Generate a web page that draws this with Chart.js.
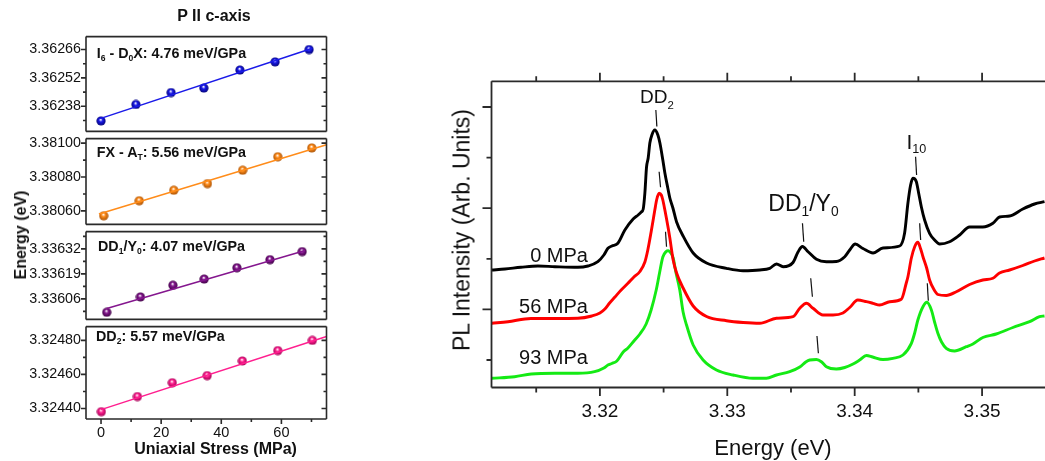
<!DOCTYPE html>
<html>
<head>
<meta charset="utf-8">
<script src="https://cdn.jsdelivr.net/npm/chart.js@4.4.0/dist/chart.umd.min.js"></script>
<style>
body{margin:0;width:1045px;height:461px;position:relative;overflow:hidden;background:#fff;font-family:"Liberation Sans",Arial,sans-serif;color:#111}
canvas{position:absolute}
.t{position:absolute;white-space:nowrap;line-height:1}
.b{font-weight:bold}
sub{font-size:.6em;vertical-align:baseline;position:relative;top:.35em}
.rot{transform:translate(-50%,-50%) rotate(-90deg)}
</style>
</head>
<body>
<canvas id="p1" width="340" height="122" style="left:0;top:23px"></canvas>
<canvas id="p2" width="340" height="113" style="left:0;top:125px"></canvas>
<canvas id="p3" width="340" height="115" style="left:0;top:218px"></canvas>
<canvas id="p4" width="340" height="148" style="left:0;top:313px"></canvas>
<canvas id="pl" width="605" height="461" style="left:440px;top:0"></canvas>

<div class="t b" style="left:0;width:428px;text-align:center;top:8px;font-size:16px">P II c-axis</div>
<div class="t b rot" style="left:21px;top:235px;font-size:16px">Energy (eV)</div>
<div class="t b" style="left:215.5px;top:441px;font-size:16px;transform:translateX(-50%)">Uniaxial Stress (MPa)</div>
<div class="t b" style="left:96.7px;top:45.7px;font-size:14.3px">I<sub>6</sub> - D<sub>0</sub>X: 4.76 meV/GPa</div>
<div class="t b" style="left:96.7px;top:144.9px;font-size:14.3px">FX - A<sub>T</sub>: 5.56 meV/GPa</div>
<div class="t b" style="left:98px;top:239.4px;font-size:14.3px">DD<sub>1</sub>/Y<sub>0</sub>: 4.07 meV/GPa</div>
<div class="t b" style="left:96px;top:328.7px;font-size:14.3px">DD<sub>2</sub>: 5.57 meV/GPa</div>

<div class="t rot" style="left:462px;top:230px;font-size:23px">PL Intensity (Arb. Units)</div>
<div class="t" style="left:773px;top:436.7px;font-size:22px;transform:translateX(-50%)">Energy (eV)</div>
<div class="t" style="left:640px;top:87.2px;font-size:19px">DD<sub style="top:.5em">2</sub></div>
<div class="t" style="left:768.3px;top:192.2px;font-size:23px">DD<sub>1</sub>/Y<sub>0</sub></div>
<div class="t" style="left:906.5px;top:130.5px;font-size:21px">I<sub>10</sub></div>
<div class="t" style="left:588px;top:244.8px;font-size:20px;transform:translateX(-100%)">0 MPa</div>
<div class="t" style="left:588px;top:296.4px;font-size:20px;transform:translateX(-100%)">56 MPa</div>
<div class="t" style="left:588px;top:347.1px;font-size:20px;transform:translateX(-100%)">93 MPa</div>

<script>
// ---- left: peak energy vs uniaxial stress ----
const stressI6 = [0, 11.6, 23.3, 34.2, 46.2, 57.9, 69.2];
const energyI6 = [3.362308, 3.362389, 3.362448, 3.362470, 3.362559, 3.362599, 3.362660];
const fitXI6 = [-0.3, 70.3];
const fitYI6 = [3.362319, 3.362666];

const stressFX = [0.9, 12.7, 24.2, 35.4, 47.1, 58.8, 70.1];
const energyFX = [3.380571, 3.380660, 3.380722, 3.380761, 3.380840, 3.380920, 3.380972];
const fitXFX = [-0.7, 75];
const fitYFX = [3.380581, 3.380991];

const stressDD1 = [1.9, 13.1, 23.9, 34.3, 45.2, 56.2, 66.9];
const energyDD1 = [3.335990, 3.336070, 3.336131, 3.336163, 3.336222, 3.336264, 3.336306];
const fitXDD1 = [1.9, 67.9];
const fitYDD1 = [3.336010, 3.336312];

const stressDD2 = [0.1, 12.1, 23.7, 35.3, 47.0, 58.8, 70.3];
const energyDD2 = [3.324381, 3.324470, 3.324551, 3.324593, 3.324679, 3.324740, 3.324800];
const fitXDD2 = [0, 75];
const fitYDD2 = [3.324393, 3.324823];

const stressTicks = [0, 20, 40, 60];

// ---- right: PL spectra ----
const energy0 = [3.31151,3.31255,3.31380,3.31514,3.31647,3.31827,3.31906,3.31984,3.32031,3.32063,3.32094,3.32141,3.32196,3.32261,3.32300,3.32325,3.32340,3.32353,3.32366,3.32379,3.32392,3.32408,3.32431,3.32455,3.32471,3.32494,3.32510,3.32533,3.32549,3.32573,3.32602,3.32653,3.32732,3.32837,3.32994,3.33124,3.33255,3.33333,3.33386,3.33438,3.33516,3.33555,3.33590,3.33634,3.33700,3.33778,3.33856,3.33922,3.33961,3.34004,3.34065,3.34144,3.34222,3.34353,3.34392,3.34418,3.34439,3.34457,3.34484,3.34502,3.34523,3.34549,3.34588,3.34627,3.34667,3.34745,3.34824,3.34902,3.35006,3.35085,3.35137,3.35216,3.35320,3.35412,3.35490];
const pl0 = [140,141,142.7,144,143.3,142.7,144,148.3,155,161.7,164,166.7,180,191,195,198,201,217,243,252,267,275,280,275,267,250,237,222,212,202,188,174,157,147,141.7,139.3,140,141.7,146,143.3,147.5,158,163.5,158.3,150.7,148.3,148.5,153.3,160,166,161.5,157,162,164,177,207,225,231.7,228.3,217,203.3,190,176.7,170,166,168.3,175,183,183,186.7,193,194,201,206,208.3];

const energy56 = [3.31151,3.31278,3.31459,3.31647,3.31827,3.31937,3.32000,3.32039,3.32076,3.32118,3.32167,3.32220,3.32267,3.32314,3.32353,3.32376,3.32402,3.32418,3.32431,3.32447,3.32465,3.32482,3.32494,3.32510,3.32536,3.32549,3.32575,3.32602,3.32653,3.32732,3.32837,3.32994,3.33124,3.33255,3.33386,3.33516,3.33569,3.33621,3.33673,3.33751,3.33830,3.33908,3.33961,3.34024,3.34092,3.34144,3.34196,3.34275,3.34366,3.34405,3.34418,3.34445,3.34471,3.34496,3.34518,3.34536,3.34565,3.34588,3.34620,3.34653,3.34719,3.34798,3.34902,3.35006,3.35085,3.35137,3.35216,3.35320,3.35412,3.35490];
const pl56 = [86.7,88.3,91.5,91.5,91.7,94,97,101,107,113,120,126.7,133,138.5,148,160,178,190,200,211,216.7,215,210,200,182,172,150,137,122,104,93.5,89.3,87.5,86.7,91.7,93.3,101.7,106.7,101.7,95,95,97,102.5,110,108.3,106.7,105,108.3,110.7,127,133.3,152,163.3,167.7,161,153.3,142,130,121,115.5,114.5,118.3,125.5,130,131.7,137,140,144.5,149,152];

const energy93 = [3.31151,3.31331,3.31461,3.31647,3.31827,3.31958,3.32031,3.32063,3.32094,3.32133,3.32183,3.32220,3.32267,3.32314,3.32363,3.32402,3.32442,3.32468,3.32494,3.32520,3.32537,3.32557,3.32575,3.32596,3.32627,3.32653,3.32680,3.32732,3.32810,3.32915,3.33045,3.33202,3.33307,3.33386,3.33490,3.33569,3.33616,3.33647,3.33700,3.33741,3.33778,3.33856,3.33922,3.33987,3.34039,3.34092,3.34141,3.34222,3.34300,3.34379,3.34445,3.34471,3.34496,3.34536,3.34567,3.34602,3.34627,3.34653,3.34682,3.34719,3.34784,3.34876,3.34928,3.35006,3.35111,3.35242,3.35373,3.35451,3.35490];
const pl93 = [31.7,33.3,36,36.7,36.7,38.3,42,45,46.5,49,58,62,69,76,86,100,120,137,153,158.5,159.3,157,152,138,120,98,85,65,50,40,35,31.7,31.7,35,38.3,43,48,50,50.5,48,43.3,41,42.5,46,50,54.5,53,50.5,51.7,55,66.7,77,90,103.3,107.7,100,88,76.7,68,61.7,59,63.3,66,72.5,76,82.5,88.3,93.3,94];

// peak markers: [E top, I top, E bottom, I bottom]
const peakMarks = [
  [3.32439, 300, 3.32447, 283.5], [3.32465, 238.3, 3.32476, 222.7], [3.32515, 178.3, 3.32523, 163.3],
  [3.33590, 186.7, 3.33600, 168.3], [3.33655, 131.7, 3.33668, 113.3], [3.33704, 74, 3.33715, 56.7],
  [3.34478, 253.3, 3.34486, 235], [3.34510, 186.7, 3.34518, 170], [3.34570, 126.7, 3.34578, 109.3]
];
const energyTicks = [3.32, 3.33, 3.34, 3.35];

const xy = (xs, ys) => xs.map((x, i) => ({x: x, y: ys[i]}));

// frame + tick marks drawn through the chart's scales
const frame = {
  id: 'frame',
  afterDatasetsDraw(chart, args, o) {
    const {ctx, chartArea: a, scales} = chart;
    ctx.save();
    ctx.strokeStyle = '#2a2a2a';
    ctx.lineWidth = o.lw;
    ctx.beginPath();
    if (o.sides.includes('l')) { ctx.moveTo(a.left, a.top); ctx.lineTo(a.left, a.bottom); }
    if (o.sides.includes('r')) { ctx.moveTo(a.right, a.top); ctx.lineTo(a.right, a.bottom); }
    if (o.sides.includes('t')) { ctx.moveTo(a.left, a.top); ctx.lineTo(a.right, a.top); }
    if (o.sides.includes('b')) { ctx.moveTo(a.left, a.bottom); ctx.lineTo(a.right, a.bottom); }
    (o.yTicks || []).forEach(([v, len]) => {
      const p = scales.y.getPixelForValue(v);
      ctx.moveTo(a.left, p); ctx.lineTo(a.left - len, p);
      if (o.yRight) { ctx.moveTo(a.right, p); ctx.lineTo(a.right - len, p); }
    });
    (o.xTicks || []).forEach(([v, len]) => {
      const p = scales.x.getPixelForValue(v);
      ctx.moveTo(p, a.bottom); ctx.lineTo(p, a.bottom + len);
      if (o.xTop) { ctx.moveTo(p, a.top); ctx.lineTo(p, a.top - len); }
    });
    ctx.stroke();
    ctx.restore();
  }
};

function ball(col, dark) {
  const c = document.createElement('canvas');
  c.width = c.height = 10;
  const g = c.getContext('2d');
  const grd = g.createRadialGradient(4.6, 3.6, 0.2, 5, 5, 5);
  grd.addColorStop(0, '#ffffff');
  grd.addColorStop(0.35, col);
  grd.addColorStop(1, dark);
  g.fillStyle = grd;
  g.beginPath(); g.arc(5, 5, 4.6, 0, Math.PI * 2); g.fill();
  return c;
}

const panels = [
  {id: 'p1', xs: stressI6, ys: energyI6, fx: fitXI6, fy: fitYI6, min: 3.362256, max: 3.362724,
   major: [3.36238, 3.36252, 3.36266], minor: [3.36231, 3.36245, 3.36259], col: '#1a1ae8', dark: '#00006e'},
  {id: 'p2', xs: stressFX, ys: energyFX, fx: fitXFX, fy: fitYFX, min: 3.38052, max: 3.381027,
   major: [3.3806, 3.3808, 3.381], minor: [3.3807, 3.3809], col: '#ff8c1a', dark: '#a04a00'},
  {id: 'p3', xs: stressDD1, ys: energyDD1, fx: fitXDD1, fy: fitYDD1, min: 3.335953, max: 3.33641,
   major: [3.33606, 3.33619, 3.33632], minor: [3.335995, 3.336125, 3.336255, 3.336385], col: '#84168e', dark: '#3a0040'},
  {id: 'p4', xs: stressDD2, ys: energyDD2, fx: fitXDD2, fy: fitYDD2, min: 3.324338, max: 3.324881,
   major: [3.3244, 3.3246, 3.3248], minor: [3.3245, 3.3247], col: '#ff1f8f', dark: '#9a0050'}
];

panels.forEach((p, k) => {
  const last = k === panels.length - 1;
  const xScale = {type: 'linear', min: -5, max: 75, display: last,
    grid: {display: false, drawTicks: false}, border: {display: false},
    afterBuildTicks: s => { s.ticks = stressTicks.map(v => ({value: v})); },
    ticks: {padding: 5.3, color: '#111', font: {size: 14.5, family: 'Liberation Sans'}}};
  if (last) xScale.afterFit = s => { s.height = 42; };

  new Chart(document.getElementById(p.id), {
    type: 'scatter',
    data: {
      datasets: [
        {type: 'line', data: xy(p.fx, p.fy), borderColor: p.col, borderWidth: 1.5, pointRadius: 0},
        {data: xy(p.xs, p.ys), pointStyle: ball(p.col, p.dark), pointRadius: 5}
      ]
    },
    options: {
      responsive: false, animation: false, events: [],
      layout: {padding: {top: 10, bottom: last ? 0 : 10, left: 0, right: 13.5}},
      plugins: {
        legend: {display: false}, tooltip: {enabled: false},
        frame: {lw: 1.6, sides: 'lrtb', yRight: true,
          yTicks: p.major.map(v => [v, 5]).concat(p.minor.map(v => [v, 3])),
          xTicks: last ? stressTicks.map(v => [v, 5]).concat([10, 30, 50, 70].map(v => [v, 3])) : []}
      },
      scales: {
        x: xScale,
        y: {min: p.min, max: p.max,
            grid: {display: false, drawTicks: false}, border: {display: false},
            afterBuildTicks: s => { s.ticks = p.major.map(v => ({value: v})); },
            afterFit: s => { s.width = 86; },
            ticks: {padding: 5, color: '#111', font: {size: 14.3, family: 'Liberation Sans'},
                    callback: v => v.toFixed(5)}}
      }
    },
    plugins: [frame]
  });
});

const markSets = peakMarks.map(m => ({
  data: [{x: m[0], y: m[1]}, {x: m[2], y: m[3]}],
  borderColor: '#111', borderWidth: 1.2, pointRadius: 0
}));

new Chart(document.getElementById('pl'), {
  type: 'line',
  data: {
    datasets: [
      {label: '0 MPa', data: xy(energy0, pl0), borderColor: '#000000'},
      {label: '56 MPa', data: xy(energy56, pl56), borderColor: '#ff0000'},
      {label: '93 MPa', data: xy(energy93, pl93), borderColor: '#14ea14'}
    ].map(d => Object.assign(d, {borderWidth: 2.9, pointRadius: 0, cubicInterpolationMode: 'monotone'}))
     .concat(markSets)
  },
  options: {
    responsive: false, animation: false, events: [],
    layout: {padding: {top: 81.3, bottom: 0, left: 0, right: 0}},
    plugins: {
      legend: {display: false}, tooltip: {enabled: false},
      frame: {lw: 1.8, sides: 'ltb', xTop: true,
        yTicks: [[100.6, 9], [201.8, 9], [303, 9], [50, 5], [151.2, 5], [252.4, 5]],
        xTicks: energyTicks.map(v => [v, 8.5]).concat([3.315, 3.325, 3.335, 3.345].map(v => [v, 5]))}
    },
    scales: {
      x: {type: 'linear', min: 3.31149, max: 3.35494,
          grid: {display: false, drawTicks: false}, border: {display: false},
          afterBuildTicks: s => { s.ticks = energyTicks.map(v => ({value: v})); },
          afterFit: s => { s.height = 73.5; },
          ticks: {padding: 12.8, color: '#111', font: {size: 19, family: 'Liberation Sans'},
                  callback: v => v.toFixed(2)}},
      y: {min: 22.5, max: 328.7,
          grid: {display: false, drawTicks: false}, border: {display: false},
          afterFit: s => { s.width = 51.5; },
          ticks: {display: false}}
    }
  },
  plugins: [frame]
});
</script>
</body>
</html>
